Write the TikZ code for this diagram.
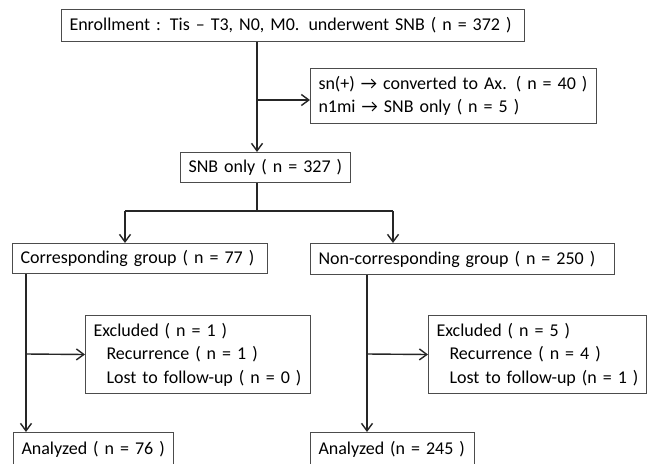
\documentclass[tikz,border=0pt]{standalone}
\usepackage{fontspec}
\setmainfont{Carlito}[WordSpace=0.7]
\usetikzlibrary{arrows.meta}

\begin{document}
\begin{tikzpicture}[x=1pt, y=-1pt,
    box/.style={rectangle, draw=black!70, line width=1pt, anchor=north west, inner xsep=8pt, inner ysep=0pt, align=left, font=\fontsize{18}{23.5}\selectfont},
    arrow/.style={-{Straight Barb[length=7.5pt, width=11pt]}, line width=1.4pt, draw=black!85},
    link/.style={line width=1.4pt, draw=black!85}
]
\clip (0,0) rectangle (647,463);
\fill[white] (0,0) rectangle (647,463);

\node[box, text width=447pt, minimum height=32pt] (enroll) at (61,9) {Enrollment : Tis -- T3, N0, M0. underwent SNB ( n = 372 )};
\node[box, text width=270pt, minimum height=55pt] (convert) at (310,68) {sn(+) → converted to Ax. ( n = 40 )\\n1mi → SNB only ( n = 5 )};

\node[box, text width=154pt, minimum height=30pt] (snbonly) at (180,152) {SNB only ( n = 327 )};

\node[box, text width=239pt, minimum height=30pt] (corr) at (12,243) {Corresponding group ( n = 77 )};
\node[box, text width=288pt, minimum height=31pt] (noncorr) at (310,243) {Non-corresponding group ( n = 250 )};

\node[box, text width=209pt, minimum height=78pt] (exclL) at (85,315) {Excluded ( n = 1 )\\\hspace*{13pt}Recurrence ( n = 1 )\\\hspace*{13pt}Lost to follow-up ( n = 0 )};
\node[box, text width=202pt, minimum height=78pt] (exclR) at (428,315) {Excluded ( n = 5 )\\\hspace*{13pt}Recurrence ( n = 4 )\\\hspace*{13pt}Lost to follow-up (n = 1 )};

\node[box, text width=144pt, minimum height=34pt] (analL) at (13,432) {Analyzed ( n = 76 )};
\node[box, text width=148pt, minimum height=34pt] (analR) at (310,432) {Analyzed (n = 245 )};

% split points
\coordinate (split1) at (257,100);
\coordinate (fork) at (257,211);
\coordinate (forkL) at (125,211);
\coordinate (forkR) at (393,211);
\coordinate (splitL) at (26,354);
\coordinate (splitR) at (367,354);

\draw[arrow] (enroll.south -| split1) -- (snbonly.north -| split1);
\draw[arrow] (split1) -- (split1 -| convert.west);

\draw[link] (snbonly.south -| fork) -- (fork);
\draw[link] (forkL) -- (forkR);
\draw[arrow] (forkL) -- (forkL |- corr.north);
\draw[arrow] (forkR) -- (forkR |- noncorr.north);

\draw[arrow] (corr.south -| splitL) -- (analL.north -| splitL);
\draw[arrow] (splitL) -- (exclL.west);
\draw[arrow] (noncorr.south -| splitR) -- (analR.north -| splitR);
\draw[arrow] (splitR) -- (exclR.west);
\end{tikzpicture}
\end{document}
